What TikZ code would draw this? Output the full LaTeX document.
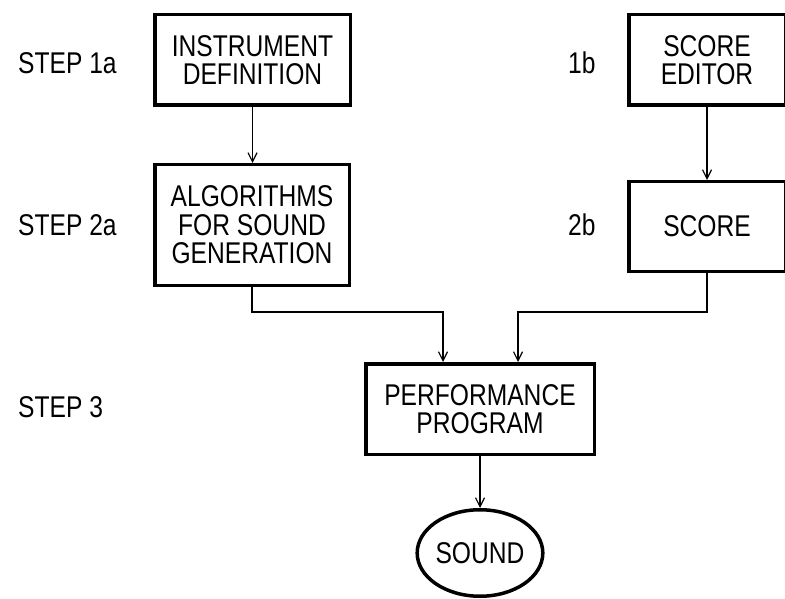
\documentclass[tikz,border=0pt]{standalone}
\usepackage{fontspec}
\setmainfont{Liberation Sans}[FakeStretch=0.82]
\usetikzlibrary{arrows.meta, shapes.geometric}

\begin{document}
\begin{tikzpicture}[x=1pt, y=-1pt, >={Straight Barb[length=9pt,width=9pt]},
	every node/.style={font=\fontsize{30}{28.5}\selectfont, align=center, inner sep=0pt},
	block/.style={draw, line width=3.5pt, minimum height=90.5pt},
	flow/.style={line width=1.2pt, ->}]
	\useasboundingbox (0,0) rectangle (785,599);
	% step labels
	\node[anchor=west] (lab1a) at (18,63) {STEP 1a};
	\node[anchor=west] (lab2a) at (18,225) {STEP 2a};
	\node[anchor=west] (lab3) at (18,407) {STEP 3};
	\node[anchor=west] (lab1b) at (568,63) {1b};
	\node[anchor=west] (lab2b) at (568,225) {2b};
	% blocks
	\node[block, minimum width=195.5pt] (instr) at (252.5,60) {INSTRUMENT\\DEFINITION};
	\node[block, minimum width=194.5pt, minimum height=120.5pt] (algo) at (252,225) {ALGORITHMS\\FOR SOUND\\GENERATION};
	\node[block, minimum width=156.5pt] (editor) at (707,60) {SCORE\\EDITOR};
	\node[block, minimum width=156.5pt, minimum height=89.5pt] (score) at (707,226.5) {SCORE};
	\node[block, minimum width=228.5pt] (perf) at (480,409) {PERFORMANCE\\PROGRAM};
	\node[draw, ellipse, line width=3.5pt, minimum width=122.5pt, minimum height=86.5pt] (sound) at (480,553) {SOUND};
	\coordinate (bus) at (0,312);
	% connectors
	\draw[flow] (instr.south) -- (instr.south |- algo.north);
	\draw[flow] (editor.south) -- (editor.south |- score.north);
	\draw[flow] (algo.south) -- (algo.south |- bus) -| ([xshift=-37pt]perf.north);
	\draw[flow] (score.south) -- (score.south |- bus) -| ([xshift=38pt]perf.north);
	\draw[flow] (perf.south) -- (sound.north);
\end{tikzpicture}
\end{document}
